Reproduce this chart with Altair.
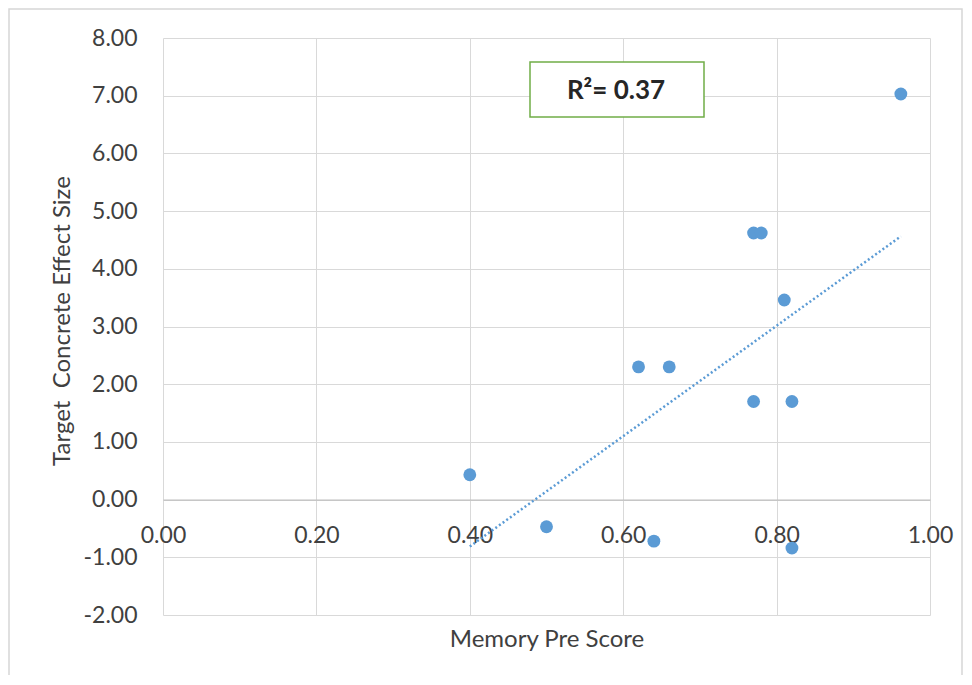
import altair as alt
import pandas as pd

# Data
memory_pre = [0.40, 0.50, 0.62, 0.66, 0.64, 0.77, 0.78, 0.77, 0.82, 0.81, 0.82, 0.962]
effect_size = [0.43, -0.47, 2.30, 2.30, -0.72, 4.62, 4.62, 1.70, 1.70, 3.46, -0.84, 7.03]
x_ticks = [0.0, 0.2, 0.4, 0.6, 0.8, 1.0]
y_ticks = [-2, -1, 0, 1, 2, 3, 4, 5, 6, 7, 8]
r2_label = "R²= 0.37"
x_title = "Memory Pre Score"
y_title = "Target\u00a0\u00a0Concrete Effect Size"

df = pd.DataFrame({"memory": memory_pre, "effect": effect_size})

W, H = 767, 577
FONT = "Lato"
TXT = "#404040"
BLUE = "#5b9bd5"
GRID = "#d9d9d9"
LABEL_EXPR = "replace(format(datum.value, '.2f'), '\u2212', '-')"

x_enc = alt.X(
    "memory:Q",
    scale=alt.Scale(domain=[0, 1], nice=False, zero=False),
    axis=alt.Axis(
        values=x_ticks, labelExpr=LABEL_EXPR, title=x_title,
        offset=-(H * 0.2), grid=True, gridColor=GRID, gridWidth=1,
        domain=True, domainColor="#bfbfbf", domainWidth=1.2,
        ticks=False, tickSize=0, labelPadding=25, labelFlush=False,
        labelFont=FONT, labelFontSize=23, labelColor=TXT,
        titleFont=FONT, titleFontSize=24, titleFontWeight="normal", titleColor=TXT,
        titleY=140, titleBaseline="middle",
    ),
)
y_enc = alt.Y(
    "effect:Q",
    scale=alt.Scale(domain=[-2, 8], nice=False, zero=False),
    axis=alt.Axis(
        values=y_ticks, labelExpr=LABEL_EXPR, title=y_title,
        grid=True, gridColor=GRID, gridWidth=1,
        domain=False, ticks=False, tickSize=0, labelPadding=26, labelFlush=False,
        labelFont=FONT, labelFontSize=23, labelColor=TXT,
        titleFont=FONT, titleFontSize=24, titleFontWeight="normal", titleColor=TXT,
        titleX=-101, titleY=H / 2 - 6, titleBaseline="middle", titleAngle=-90,
    ),
)

border = alt.Chart(alt.Data(values=[{}])).mark_rect(
    fill=None, stroke="#d6d6d6", strokeWidth=1.5
).encode(
    x=alt.value(-154), x2=alt.value(W + 32), y=alt.value(-29), y2=alt.value(H + 200)
)

points = alt.Chart(df).mark_point(
    filled=True, size=165, color=BLUE, opacity=1
).encode(x=x_enc, y=y_enc)

trend = alt.Chart(df).transform_regression(
    "memory", "effect"
).mark_line(
    color=BLUE, strokeDash=[2, 2.5], strokeWidth=2.5
).encode(x=x_enc, y=y_enc)

box = alt.Chart(alt.Data(values=[{}])).mark_rect(
    fill="white", stroke="#70ad47", strokeWidth=1.5
).encode(x=alt.value(367), x2=alt.value(541), y=alt.value(24), y2=alt.value(79))

label = alt.Chart(alt.Data(values=[{"t": r2_label}])).mark_text(
    font=FONT, fontSize=26, fontWeight="bold", color="#262626", align="center", baseline="middle"
).encode(text="t:N", x=alt.value(453), y=alt.value(53))

chart = alt.layer(border, trend, points, box, label).properties(
    width=W, height=H,
    autosize=alt.AutoSizeParams(type="none"),
    padding={"left": 155, "top": 30, "right": 33, "bottom": 60},
).configure_view(stroke=None)

chart.save("out.html", embed_options={"renderer": "svg", "actions": False})
